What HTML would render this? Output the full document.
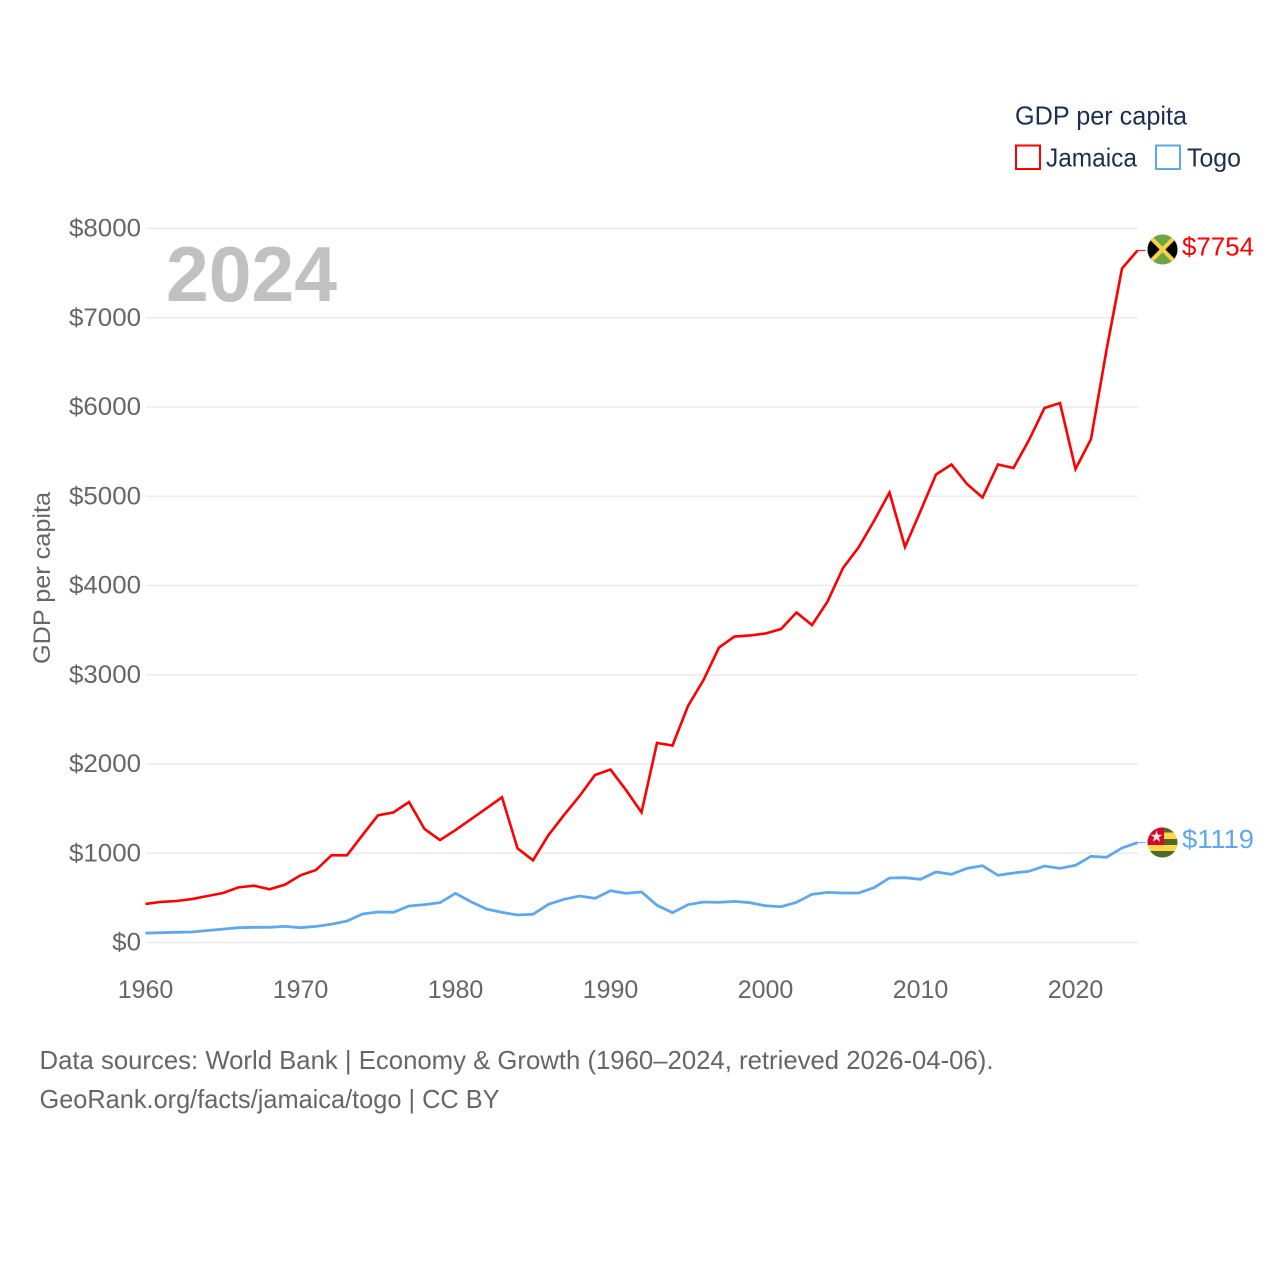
<!DOCTYPE html>
<html lang="en">
<head>
<meta charset="utf-8">
<title>GDP per capita: Jamaica and Togo</title>
<style>
html,body{margin:0;padding:0;background:#fff;}
svg{display:block;}
text{font-family:"Liberation Sans",sans-serif;}
</style>
</head>
<body>
<svg id="chart" xmlns="http://www.w3.org/2000/svg" width="1280" height="1280" viewBox="0 0 1280 1280">
  <rect x="0" y="0" width="1280" height="1280" fill="#ffffff"/>
  <g id="grid"></g>
  <g id="yticks"></g>
  <g id="xticks"></g>
  <text x="166" y="301" font-size="78" font-weight="700" fill="#c1c1c1" textLength="171" lengthAdjust="spacingAndGlyphs">2024</text>
  <text transform="translate(50,664) rotate(-90)" font-size="24" fill="#666666" textLength="172" lengthAdjust="spacingAndGlyphs">GDP per capita</text>
  <g id="series"></g>

  <g>
    <text x="1015" y="124.500" font-size="26" fill="#1b3050" textLength="172" lengthAdjust="spacingAndGlyphs">GDP per capita</text>
    <rect x="1016" y="145.500" width="24" height="23.500" fill="#ffffff" stroke="#ff0000" stroke-width="2"/>
    <text x="1046" y="166.500" font-size="26" fill="#1b3050" textLength="91" lengthAdjust="spacingAndGlyphs">Jamaica</text>
    <rect x="1156" y="145.500" width="24" height="23.500" fill="#ffffff" stroke="#5fa8ee" stroke-width="2"/>
    <text x="1187" y="166.500" font-size="26" fill="#1b3050" textLength="54" lengthAdjust="spacingAndGlyphs">Togo</text>
  </g>

  <defs>
    <clipPath id="flag-clip-jm"><circle cx="1162.500" cy="249.500" r="15"/></clipPath>
    <clipPath id="flag-clip-tg"><circle cx="1162.500" cy="842.500" r="15"/></clipPath>
  </defs>

  <g clip-path="url(#flag-clip-jm)">
    <rect x="1147" y="234" width="31" height="31" fill="#6fa544"/>
    <polygon points="1147.500,234.500 1162.500,249.500 1147.500,264.500" fill="#050505"/>
    <polygon points="1177.500,234.500 1162.500,249.500 1177.500,264.500" fill="#050505"/>
    <line x1="1147.500" y1="234.500" x2="1177.500" y2="264.500" stroke="#f5d24a" stroke-width="4"/>
    <line x1="1177.500" y1="234.500" x2="1147.500" y2="264.500" stroke="#f5d24a" stroke-width="4"/>
  </g>

  <g clip-path="url(#flag-clip-tg)">
    <rect x="1147" y="827" width="31" height="31" fill="#ffd84a"/>
    <rect x="1147" y="827" width="31" height="5.500" fill="#4d6a28"/>
    <rect x="1147" y="839" width="31" height="6" fill="#4d6a28"/>
    <rect x="1147" y="851" width="31" height="7" fill="#4d6a28"/>
    <rect x="1147" y="827" width="17" height="18" fill="#d6062c"/>
    <polygon points="1156.500,830.500 1157.900,834.800 1162.400,834.800 1158.800,837.400 1160.200,841.700 1156.500,839.100 1152.800,841.700 1154.200,837.400 1150.600,834.800 1155.100,834.800" fill="#f4e6e6"/>
  </g>

  <g id="endlabels"></g>

  <text x="39.500" y="1069" font-size="26" fill="#666666" textLength="954" lengthAdjust="spacingAndGlyphs">Data sources: World Bank | Economy &amp; Growth (1960–2024, retrieved 2026-04-06).</text>
  <text x="39.500" y="1108" font-size="26" fill="#666666" textLength="460" lengthAdjust="spacingAndGlyphs">GeoRank.org/facts/jamaica/togo | CC BY</text>
</svg>

<script>
const years = [];
for (let y = 1960; y <= 2024; y++) years.push(y);

const jamaicaValues = [432,455,465,487,521,555,618,637,596,648,753,812,977,977,1204,1425,1458,1574,1272,1148,1260,1381,1504,1627,1055,921,1204,1428,1640,1877,1938,1708,1458,2235,2207,2650,2941,3305,3428,3440,3462,3512,3697,3557,3820,4196,4426,4723,5042,4431,4834,5244,5356,5137,4986,5356,5317,5630,5989,6045,5305,5641,6639,7552,7754];
const togoValues = [106,110,114,118,134,150,166,170,170,181,166,181,204,241,319,342,338,409,424,446,551,457,375,338,308,316,428,484,521,495,580,551,566,417,334,424,454,450,461,446,412,401,450,540,562,555,555,614,723,726,708,790,764,831,860,753,779,798,857,831,865,966,955,1059,1119];

const yTickValues = [0,1000,2000,3000,4000,5000,6000,7000,8000];
const xTickValues = [1960,1970,1980,1990,2000,2010,2020];

const jamaicaColor = "#ff0000";
const togoColor = "#5fa8ee";

const NS = "http://www.w3.org/2000/svg";
function xScale(year) { return 145.5 + (year - 1960) * 15.5; }
function yScale(value) { return 942.5 - value * 0.08925; }
function make(tag, attrs, parent) {
  const el = document.createElementNS(NS, tag);
  for (const k in attrs) el.setAttribute(k, attrs[k]);
  parent.appendChild(el);
  return el;
}

const gridGroup = document.getElementById("grid");
const yGroup = document.getElementById("yticks");
yTickValues.forEach(function (v) {
  const line = make("line", {x1: 146, x2: 1138, y1: yScale(v), y2: yScale(v), stroke: "#ebebeb", "stroke-width": 1.5}, gridGroup);
  
  
  const label = "$" + v;
  const t = make("text", {x: 141, y: yScale(v) + 8, "text-anchor": "end", "font-size": 25, fill: "#666666", textLength: label.length * 14.4, lengthAdjust: "spacingAndGlyphs"}, yGroup);
  t.textContent = label;
  
  
});

const xGroup = document.getElementById("xticks");
xTickValues.forEach(function (v) {
  const t = make("text", {x: xScale(v), y: 998, "text-anchor": "middle", "font-size": 25, fill: "#666666"}, xGroup);
  t.textContent = String(v);
  
  
});

function pointsFor(values) {
  return values.map(function (v, i) { return xScale(years[i]) + "," + yScale(v); }).join(" ");
}

const seriesGroup = document.getElementById("series");
const jamaicaLine = make("polyline", {points: pointsFor(jamaicaValues), fill: "none", stroke: jamaicaColor, "stroke-width": 2.6, "stroke-linejoin": "miter"}, seriesGroup);


const togoLine = make("polyline", {points: pointsFor(togoValues), fill: "none", stroke: togoColor, "stroke-width": 2.8, "stroke-linejoin": "miter"}, seriesGroup);



const jamaicaLast = jamaicaValues[jamaicaValues.length - 1];
const togoLast = togoValues[togoValues.length - 1];
const lastYear = years[years.length - 1];

const jamaicaLeader = make("line", {x1: xScale(lastYear), x2: xScale(lastYear) + 8, y1: yScale(jamaicaLast), y2: yScale(jamaicaLast), stroke: jamaicaColor, "stroke-width": 1}, seriesGroup);


const togoLeader = make("line", {x1: xScale(lastYear), x2: xScale(lastYear) + 8, y1: yScale(togoLast), y2: yScale(togoLast), stroke: togoColor, "stroke-width": 1}, seriesGroup);



const endGroup = document.getElementById("endlabels");
const jamaicaEnd = make("text", {x: 1182, y: yScale(jamaicaLast) + 5, "font-size": 26, fill: jamaicaColor, textLength: 72, lengthAdjust: "spacingAndGlyphs"}, endGroup);
jamaicaEnd.textContent = "$" + jamaicaLast;


const togoEnd = make("text", {x: 1182, y: yScale(togoLast) + 5.5, "font-size": 26, fill: togoColor, textLength: 72, lengthAdjust: "spacingAndGlyphs"}, endGroup);
togoEnd.textContent = "$" + togoLast;


</script>
</body>
</html>
